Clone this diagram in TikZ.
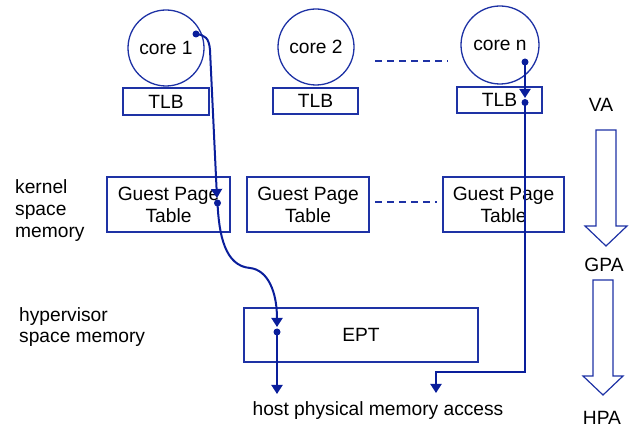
\documentclass[tikz,border=0pt]{standalone}
\usepackage{fontspec}
\setmainfont{Liberation Sans}
\usetikzlibrary{arrows.meta}
\definecolor{boxblue}{RGB}{30,50,165}
\definecolor{lineblue}{RGB}{10,30,155}
\begin{document}
\begin{tikzpicture}[x=1pt,y=-1pt,
  every node/.style={font=\fontsize{19.2}{22}\selectfont, text=black},
  core/.style={circle, draw=boxblue, line width=1.3pt, minimum size=76pt, inner sep=0pt},
  tlb/.style={rectangle, draw=boxblue, line width=1.3pt, minimum width=85pt, minimum height=26pt, inner sep=0pt},
  gpt/.style={rectangle, draw=boxblue, line width=1.3pt, minimum width=122pt, minimum height=55pt, inner sep=0pt, align=center},
  conn/.style={draw=lineblue, line width=2pt},
  arrowtip/.style={-{Triangle[width=11pt,length=9pt]}},
  conndot/.style={circle, fill=lineblue, inner sep=0pt, minimum size=7pt},
  dashline/.style={draw=boxblue, line width=1.3pt, dash pattern=on 7pt off 5pt},
  bigarrow/.style={draw=boxblue, line width=1.2pt, fill=white, line join=miter},
  sidelabel/.style={align=left, anchor=west, inner sep=0pt, font=\fontsize{19.2}{22}\selectfont}]
\useasboundingbox (0,0) rectangle (629,427);

% cores
\node[core] (c1) at (166,48) {core 1};
\node[core] (c2) at (316,47) {core 2};
\node[core, minimum size=78pt] (cn) at (500,45) {core n};

% TLBs
\node[tlb, minimum width=86pt, minimum height=27pt] (t1) at (166,101.5) {TLB};
\node[tlb] (t2) at (315.5,101) {TLB};
\node[tlb] (tn) at (499.5,100) {TLB};

% guest page tables
\node[gpt, minimum width=123pt] (g1) at (168.5,204.5) {Guest Page\\Table};
\node[gpt] (g2) at (308,204.5) {Guest Page\\Table};
\node[gpt, minimum width=121pt] (gn) at (503.5,204.5) {Guest Page\\Table};

% EPT
\node[gpt, minimum width=234pt, minimum height=54pt] (ept) at (361,335) {EPT};

% texts
\node[anchor=base] (host) at (378,415) {host physical memory access};
\node[sidelabel] (kl) at (15,211) {kernel\\space\\memory};
\node[sidelabel, font=\fontsize{19.2}{20.5}\selectfont] (hl) at (19,327) {hypervisor\\space memory};
\node[anchor=base] (va) at (601,112) {VA};
\node[anchor=base] (gpa) at (604,272) {GPA};
\node[anchor=base] (hpa) at (602,424) {HPA};

% dashed lines
\coordinate (dl1) at (375,61);
\coordinate (dr1) at (448,61);
\coordinate (dl2) at (375,202);
\coordinate (dr2) at (437,202);
\draw[dashline] (dl1) -- (dr1);
\draw[dashline] (dl2) -- (dr2);

% big arrows
\draw[bigarrow] (596,130) -- (616,130) -- (616,226) -- (627,226) -- (606,246) -- (585,226) -- (596,226) -- cycle;
\draw[bigarrow] (593,280) -- (613,280) -- (613,376) -- (623,376) -- (603,395) -- (583,376) -- (593,376) -- cycle;

% connector from core 1
\node[conndot] (p1) at (196,34) {};
\coordinate (a1) at (217,198);
\node[conndot] (p2) at (217.5,203) {};
\coordinate (a2) at (277,327);
\node[conndot] (p3) at (277,332) {};
\coordinate (a3) at (277,394);
\draw[conn, arrowtip] (p1.center) .. controls (205,35) and (209,38) .. (210,50) -- (a1);
\draw[conn, arrowtip] (p2.center) .. controls (219,235) and (225,266) .. (250,268) .. controls (268,270) and (277,292) .. (a2);
\draw[conn, arrowtip] (p3.center) -- (a3);

% connector from core n
\node[conndot] (q1) at (525,62) {};
\coordinate (b1) at (525,98);
\node[conndot] (q2) at (525,102.5) {};
\coordinate (b2) at (525,372);
\coordinate (b3) at (436,372);
\coordinate (b4) at (436,393);
\draw[conn, arrowtip] (q1.center) -- (b1);
\draw[conn, arrowtip] (q2.center) -- (b2) -- (b3) -- (b4);
\end{tikzpicture}
\end{document}
